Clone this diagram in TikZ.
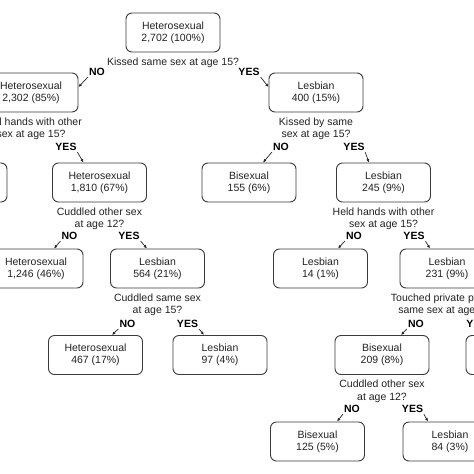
\documentclass[tikz,border=0pt]{standalone}
\usepackage{fontspec}
\setmainfont{Liberation Sans}
\usetikzlibrary{arrows.meta,positioning}
\definecolor{boxline}{HTML}{3A3A3A}
\definecolor{inktext}{HTML}{222222}
\tikzset{
  groupbox/.style={draw=boxline, line width=0.9pt, rounded corners=6pt, minimum width=94pt, minimum height=39pt, align=center, inner sep=0pt, font=\fontsize{10.5}{12.4}\selectfont, text=inktext},
  question/.style={align=center, inner sep=0pt, font=\fontsize{10.5}{12.4}\selectfont, text=inktext},
  answer/.style={inner sep=0pt, font=\fontsize{10.5}{12}\selectfont\bfseries, text=black},
  branch/.style={-{Latex[length=3.5pt,width=3pt]}, line width=0.7pt, black!85, shorten <=1.5pt}
}
\begin{document}
\begin{tikzpicture}[x=1pt, y=-1pt]
  \useasboundingbox (0,0) rectangle (474,474);
  \clip (0,0) rectangle (474,474);
  % groups
  \node[groupbox] (root) at (173,32.5) {Heterosexual\\2,702 (100\%)};
  \node[groupbox] (hetA) at (31,92.5) {Heterosexual\\2,302 (85\%)};
  \node[groupbox] (lesA) at (316,92.5) {Lesbian\\400 (15\%)};
  \node[groupbox] (offL) at (-40,182.5) {};
  \node[groupbox] (hetB) at (99.5,182.5) {Heterosexual\\1,810 (67\%)};
  \node[groupbox] (bisA) at (249,182.5) {Bisexual\\155 (6\%)};
  \node[groupbox] (lesB) at (383.5,182.5) {Lesbian\\245 (9\%)};
  \node[groupbox] (hetC) at (36,268.5) {Heterosexual\\1,246 (46\%)};
  \node[groupbox] (lesC) at (157.5,268.5) {Lesbian\\564 (21\%)};
  \node[groupbox] (lesD) at (320.5,268.5) {Lesbian\\14 (1\%)};
  \node[groupbox] (lesE) at (447,268.5) {Lesbian\\231 (9\%)};
  \node[groupbox] (hetD) at (95.5,355) {Heterosexual\\467 (17\%)};
  \node[groupbox] (lesF) at (220,355) {Lesbian\\97 (4\%)};
  \node[groupbox] (bisB) at (382,355) {Bisexual\\209 (8\%)};
  \node[groupbox] (offR) at (513,355) {};
  \node[groupbox] (bisC) at (317.5,441.5) {Bisexual\\125 (5\%)};
  \node[groupbox] (lesG) at (450,441.5) {Lesbian\\84 (3\%)};
  % questions
  \node[question, below=5pt of root] (qroot) {Kissed same sex at age 15?};
  \node[question, below=5pt of hetA] (qhetA) {Held hands with other\\sex at age 15?};
  \node[question, below=5pt of lesA] (qlesA) {Kissed by same\\sex at age 15?};
  \node[question, below=5pt of hetB] (qhetB) {Cuddled other sex\\at age 12?};
  \node[question, below=5pt of lesB] (qlesB) {Held hands with other\\sex at age 15?};
  \node[question, below=5pt of lesC] (qlesC) {Cuddled same sex\\at age 15?};
  \node[question, below=5pt of lesE] (qlesE) {Touched private parts of\\same sex at age 15?};
  \node[question, below=5pt of bisB] (qbisB) {Cuddled other sex\\at age 12?};
  % answers
  \node[answer] (nRoot) at (97,72) {NO};
  \node[answer] (yRoot) at (249,72) {YES};
  \node[answer] (yHetA) at (66,147) {YES};
  \node[answer] (nLesA) at (281,147) {NO};
  \node[answer] (yLesA) at (354,147) {YES};
  \node[answer] (nHetB) at (69.5,236) {NO};
  \node[answer] (yHetB) at (129,236) {YES};
  \node[answer] (nLesB) at (354,236) {NO};
  \node[answer] (yLesB) at (414,236) {YES};
  \node[answer] (nLesC) at (127.5,324) {NO};
  \node[answer] (yLesC) at (187.5,324) {YES};
  \node[answer] (nLesE) at (416,324) {NO};
  \node[answer] (yLesE) at (477,324) {YES};
  \node[answer] (nBisB) at (352,409) {NO};
  \node[answer] (yBisB) at (412.5,409) {YES};
  % branches
  \draw[branch] (nRoot.south west) -- ([yshift=-14.5pt]hetA.north east);
  \draw[branch] (yRoot.south east) -- ([yshift=-14.5pt]lesA.north west);
  \draw[branch] (yHetA.south east) -- ([xshift=-16pt]hetB.north);
  \draw[branch] (nLesA.south west) -- ([xshift=14pt]bisA.north);
  \draw[branch] (yLesA.south east) -- ([xshift=-14.5pt]lesB.north);
  \draw[branch] (nHetB.south west) -- ([xshift=18pt]hetC.north);
  \draw[branch] (yHetB.south east) -- ([xshift=-10.5pt]lesC.north);
  \draw[branch] (nLesB.south west) -- ([xshift=17.5pt]lesD.north);
  \draw[branch] (yLesB.south east) -- ([xshift=-17pt]lesE.north);
  \draw[branch] (nLesC.south west) -- ([xshift=16.5pt]hetD.north);
  \draw[branch] (yLesC.south east) -- ([xshift=-16pt]lesF.north);
  \draw[branch] (nLesE.south west) -- ([xshift=19pt]bisB.north);
  \draw[branch] (yLesE.south east) -- ([xshift=-17pt]offR.north);
  \draw[branch] (nBisB.south west) -- ([xshift=19.5pt]bisC.north);
  \draw[branch] (yBisB.south east) -- ([xshift=-22pt]lesG.north);
\end{tikzpicture}
\end{document}
